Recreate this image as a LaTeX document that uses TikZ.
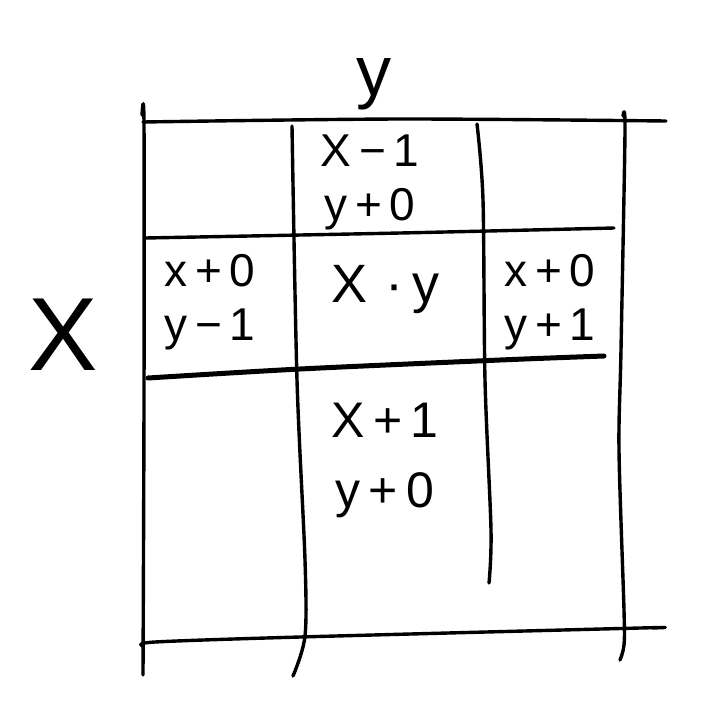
\documentclass[tikz,border=0pt]{standalone}
\usepackage{fontspec}
\setmainfont{Liberation Sans}
\usetikzlibrary{positioning}

\begin{document}
\begin{tikzpicture}[
    x=1pt, y=-1pt,
    stroke/.style={line width=3.4pt, line cap=round, line join=round},
    bold stroke/.style={stroke, line width=5pt},
    hand/.style={align=center, inner sep=0pt, font=\fontsize{46}{54}\selectfont},
    axis/.style={inner sep=0pt}
]
    \useasboundingbox (0,0) rectangle (724,724);

    % grid lines
    \draw[stroke] plot[smooth] coordinates {(142,115) (144,124) (144,400) (143,675)};
    \draw[stroke] plot[smooth] coordinates {(292,126) (297,380) (305,560) (305,636) (293,676)};
    \draw[stroke] plot[smooth] coordinates {(477,124) (483,200) (485,380) (491,530) (489,583)};
    \draw[stroke] plot[smooth] coordinates {(623,116) (625,132) (621,350) (619,450) (624,610) (624,645) (620,660)};
    \draw[stroke] plot[smooth] coordinates {(143,122) (400,119) (666,121)};
    \draw[stroke] plot[smooth] coordinates {(145,238) (400,233) (614,228)};
    \draw[bold stroke] plot[smooth] coordinates {(148,378) (300,369) (500,360) (604,356)};
    \draw[stroke] plot[smooth] coordinates {(143,646) (155,642) (300,637) (640,628) (652,628)};

    % axis labels
    \node[axis, font=\fontsize{70}{70}\selectfont] (ylabel) at (374,84) {y};
    \node[axis, font=\fontsize{104}{104}\selectfont] (xlabel) at (63,335) {X};

    % cells
    \node[hand] (up) at (370,182) {X\,−\,1\\y\,+\,0};
    \node[hand] (left) at (210,302) {x\,+\,0\\y\,−\,1};
    \node[hand, font=\fontsize{54}{54}\selectfont] (centre) at (385,290) {X\,\,·\,y};
    \node[hand] (right) at (550,302) {x\,+\,0\\y\,+\,1};
    \node[hand, font=\fontsize{50}{70}\selectfont] (down) at (385,460) {X\,+\,1\\y\,+\,0};
\end{tikzpicture}
\end{document}
